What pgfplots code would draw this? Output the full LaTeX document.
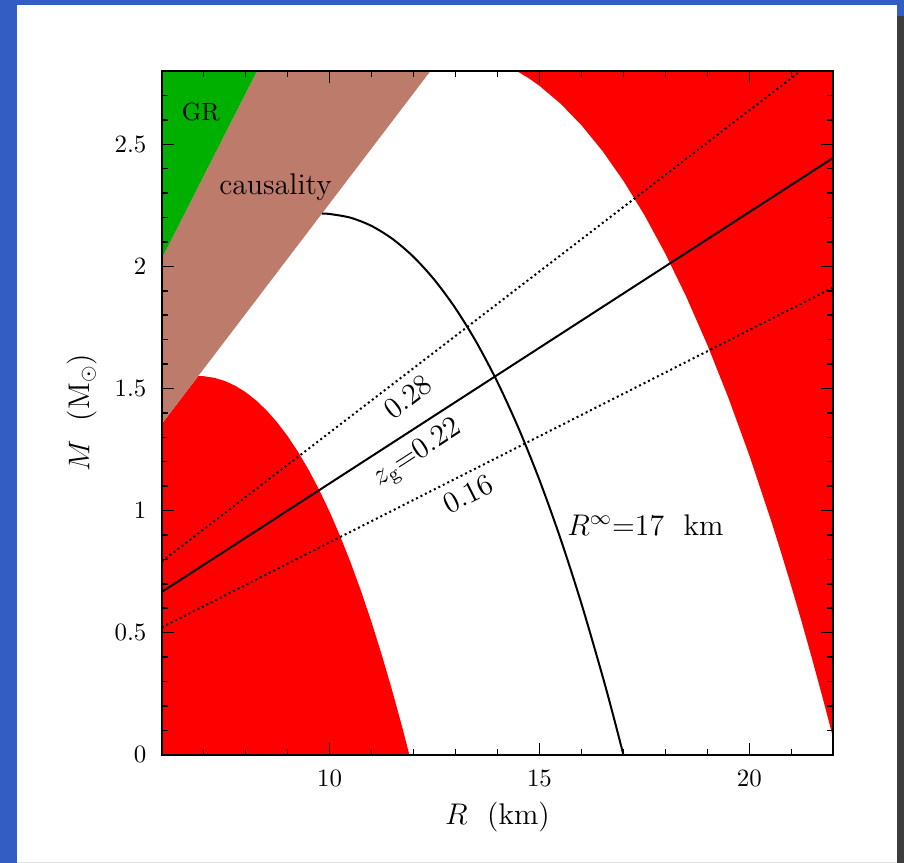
\documentclass[border=0pt]{standalone}
\usepackage{pgfplots}
\pgfplotsset{compat=1.18}
\definecolor{grfill}{RGB}{0,176,0}
\definecolor{causfill}{RGB}{189,123,108}
\definecolor{framebl}{RGB}{52,93,196}
\definecolor{framegr}{RGB}{60,60,60}
\begin{document}
\begin{tikzpicture}
% slide background and frame (1 px = 0.4bp)
\path[use as bounding box] (-64.7bp,-43.3bp) rectangle (296.9bp,301.9bp);
\fill[white] (-64.7bp,-43.3bp) rectangle (296.9bp,301.9bp);
\fill[framebl] (-64.7bp,-43.3bp) rectangle (-57.9bp,301.9bp);
\fill[framebl] (-64.7bp,299.9bp) rectangle (296.9bp,301.9bp);
\fill[framebl] (294.1bp,295.5bp) rectangle (296.9bp,301.9bp);
\fill[framegr] (294.1bp,-43.3bp) rectangle (296.9bp,295.5bp);
\fill[black!12] (-57.9bp,-43.3bp) rectangle (294.1bp,-42.9bp);
\begin{axis}[
    at={(0,0)}, anchor=south west,
    scale only axis,
    width=268.6bp, height=273.5bp,
    xmin=6, xmax=22, ymin=0, ymax=2.8,
    xtick={10,15,20},
    ytick={0,0.5,1,1.5,2,2.5},
    minor xtick={6,7,...,22},
    minor ytick={0,0.1,...,2.8},
    tick align=inside,
    major tick length=4.8bp,
    minor tick length=2.4bp,
    tick style={black, line width=0.6bp},
    axis line style={line width=0.8bp},
    axis on top,
    xticklabel style={yshift=-2.7bp},
    yticklabel style={xshift=-2.6bp},
    xlabel={\large $R$\ \ (km)},
    ylabel={\large $M$\ \ (M$_\odot$)},
    xlabel style={at={(axis description cs:0.5,-0.0907)}, anchor=center},
    ylabel style={at={(axis description cs:-0.119,0.5)}, anchor=center},
]
% excluded: R_inf < 11.9 km
\addplot[draw=none, fill=red] coordinates {
  (6,0) (6,1.3545) (6.87,1.5509) (7.0,1.5501) (7.25,1.5437) (7.5,1.5308)
  (7.75,1.5112) (8.0,1.4846) (8.25,1.4509) (8.5,1.4098) (8.75,1.3610)
  (9.0,1.3044) (9.25,1.2397) (9.5,1.1667) (9.75,1.0852) (10,0.9950)
  (10.25,0.8957) (10.5,0.7874) (10.75,0.6696) (11,0.5421) (11.25,0.4048)
  (11.5,0.2574) (11.75,0.0997) (11.9,0)
} -- cycle;
% excluded: R_inf > 22.1 km
\addplot[draw=none, fill=red] coordinates {
  (14.46,2.8) (14.75,2.7698) (15,2.7393) (15.5,2.6668) (16,2.5781)
  (16.5,2.4728) (17,2.3503) (17.5,2.2101) (18,2.0517) (18.5,1.8747)
  (19,1.6784) (19.5,1.4623) (20,1.2259) (20.5,0.9688) (20.75,0.8322)
  (21,0.6903) (21.25,0.5428) (21.5,0.3899) (21.75,0.2314) (22,0.0673)
  (22,2.8)
} -- cycle;
% causality
\addplot[draw=none, fill=causfill] coordinates {
  (6,1.3545) (12.403,2.8) (8.269,2.8) (6,2.0317)
} -- cycle;
% GR
\addplot[draw=none, fill=grfill] coordinates {
  (6,2.0317) (8.269,2.8) (6,2.8)
} -- cycle;
% R_inf = 17 km
\addplot[black, line width=0.8bp, smooth] coordinates {
  (9.815,2.2157) (10,2.2145) (10.5,2.1991) (11,2.1653) (11.5,2.1121)
  (12,2.0387) (12.5,1.9442) (13,1.8278) (13.5,1.6885) (14,1.5255)
  (14.5,1.3379) (15,1.1248) (15.5,0.8854) (16,0.6187) (16.5,0.3238)
  (16.75,0.1656) (17,0)
};
% redshift lines
\addplot[black, line width=0.8bp] coordinates {(6,0.6667) (22,2.4445)}
  node[pos=0.3625, sloped, below, font=\large] {$z_{\mathrm{g}}$=0.22};
\addplot[black, line width=0.8bp, dash pattern=on 0.8bp off 1.2bp] coordinates {(6,0.7916) (22,2.9027)}
  node[pos=0.349, sloped, below, font=\large] {0.28};
\addplot[black, line width=0.8bp, dash pattern=on 0.8bp off 1.2bp] coordinates {(6,0.5218) (22,1.9133)}
  node[pos=0.443, sloped, below, font=\large] {0.16};
\node at (axis cs:6.93,2.632) {GR};
\node[font=\large] at (axis cs:8.71,2.326) {causality};
\node[anchor=west, inner sep=0pt, font=\large] at (axis cs:15.65,0.94) {$R^{\infty}$=17\ \ km};
\end{axis}
\end{tikzpicture}
\end{document}
